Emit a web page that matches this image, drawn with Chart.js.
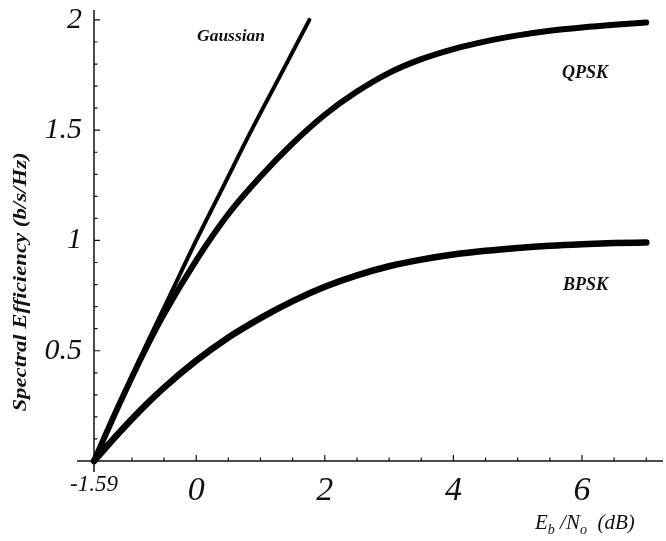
<!DOCTYPE html>
<html>
<head>
<meta charset="utf-8">
<script src="https://cdn.jsdelivr.net/npm/chart.js@4.4.1/dist/chart.umd.min.js"></script>
<style>
html,body{margin:0;padding:0;background:#fff;}
#wrap{position:relative;width:666px;height:541px;}
</style>
</head>
<body>
<div id="wrap"><canvas id="c" width="666" height="541"></canvas></div>
<script>
// ---- data ----
const gaussX = [-1.59, -1.21, -0.82, -0.41, 0, 0.43, 0.86, 1.31, 1.76];
const gaussY = [0, 0.25, 0.5, 0.75, 1, 1.25, 1.5, 1.75, 2];
const ebnoX  = [-1.59, -1.2, -0.8, -0.5, 0, 0.5, 1, 1.5, 2, 2.5, 3, 3.5, 4, 4.5, 5, 5.5, 6, 6.5, 7];
const qpskY  = [0, 0.255, 0.5, 0.667, 0.91, 1.12, 1.29, 1.44, 1.57, 1.675, 1.76, 1.822, 1.868, 1.903, 1.93, 1.951, 1.966, 1.978, 1.988];
const bpskY  = [0, 0.128, 0.25, 0.333, 0.455, 0.56, 0.648, 0.725, 0.79, 0.842, 0.883, 0.913, 0.936, 0.953, 0.966, 0.976, 0.983, 0.988, 0.991];

const xTickValues = [-1.59, -1, -0.5, 0, 0.5, 1, 1.5, 2, 2.5, 3, 3.5, 4, 4.5, 5, 5.5, 6, 6.5, 7];
const xLabeled    = [-1.59, 0, 2, 4, 6];
const yTickValues = [0.1,0.2,0.3,0.4,0.5,0.6,0.7,0.8,0.9,1,1.1,1.2,1.3,1.4,1.5,1.6,1.7,1.8,1.9,2];
const yLabeled    = [0.5, 1, 1.5, 2];
const seriesNames = ['Gaussian', 'QPSK', 'BPSK'];
const yTitle = 'Spectral Efficiency (b/s/Hz)';

const near = (a, b) => Math.abs(a - b) < 1e-6;
const isIn = (arr, v) => arr.some(a => near(a, v));
const pts = (xs, ys) => xs.map((x, i) => ({x, y: ys[i]}));

const SERIF = '"Liberation Serif", "DejaVu Serif", serif';

const axesPlugin = {
  id: 'axesPlugin',
  beforeDatasetsDraw(chart) {
    const {ctx, scales: {x, y}} = chart;
    const x0 = x.getPixelForValue(-1.59);
    const y0 = y.getPixelForValue(0);
    ctx.save();
    ctx.strokeStyle = '#111';
    ctx.lineWidth = 1.5;
    ctx.beginPath();
    ctx.moveTo(x0 - 17, y0); ctx.lineTo(x.right, y0);
    ctx.moveTo(x0, chart.chartArea.top); ctx.lineTo(x0, y0 + 11);
    ctx.stroke();
    ctx.lineWidth = 1.2;
    ctx.beginPath();
    xTickValues.forEach(v => {
      if (near(v, -1.59)) return;
      const px = x.getPixelForValue(v);
      const len = isIn(xLabeled, v) ? 6 : 3.5;
      ctx.moveTo(px, y0); ctx.lineTo(px, y0 - len);
    });
    yTickValues.forEach(v => {
      const py = y.getPixelForValue(v);
      const len = isIn(yLabeled, v) ? 6 : 3.5;
      ctx.moveTo(x0, py); ctx.lineTo(x0 + len, py);
    });
    ctx.stroke();
    ctx.restore();
  },
  afterDraw(chart) {
    const {ctx} = chart;
    ctx.save();
    ctx.fillStyle = '#111';
    // series labels
    ctx.font = 'italic bold 17.5px ' + SERIF;
    ctx.textBaseline = 'alphabetic';
    ctx.textAlign = 'left';
    ctx.fillText(seriesNames[0], 197, 41);
    ctx.font = 'italic bold 18px ' + SERIF;
    ctx.fillText(seriesNames[1], 562, 78);
    ctx.fillText(seriesNames[2], 563, 290);
    // y title
    ctx.save();
    ctx.translate(26, 282);
    ctx.rotate(-Math.PI / 2);
    ctx.scale(1.2, 1);
    ctx.textAlign = 'center';
    ctx.font = 'italic bold 19px ' + SERIF;
    ctx.fillText(yTitle, 0, 0);
    ctx.restore();
    // x title  E_b / N_o  (dB)
    let cx = 535;
    const base = 529;
    ctx.textAlign = 'left';
    const big = 'italic 21px ' + SERIF, small = 'italic 14px ' + SERIF;
    const parts = [['E', big, 0], ['b', small, 5], [' /N', big, 0], ['o', small, 5], ['  (dB)', big, 0]];
    parts.forEach(([t, f, dy]) => {
      ctx.font = f;
      ctx.fillText(t, cx, base + dy);
      cx += ctx.measureText(t).width;
    });
    ctx.restore();
  }
};

const commonLine = {
  borderColor: '#000',
  pointRadius: 0,
  fill: false,
  showLine: true,
  cubicInterpolationMode: 'monotone',
  borderCapStyle: 'round',
  borderJoinStyle: 'round',
  clip: false
};

new Chart(document.getElementById('c'), {
  type: 'scatter',
  data: {
    datasets: [
      {...commonLine, label: seriesNames[0], data: pts(gaussX, gaussY), borderWidth: 4},
      {...commonLine, label: seriesNames[1], data: pts(ebnoX, qpskY), borderWidth: 6},
      {...commonLine, label: seriesNames[2], data: pts(ebnoX, bpskY), borderWidth: 6.5}
    ]
  },
  options: {
    responsive: false,
    animation: false,
    layout: {padding: {left: 0, top: 10, right: 3, bottom: 0}},
    plugins: {legend: {display: false}, tooltip: {enabled: false}},
    scales: {
      x: {
        type: 'linear',
        min: -1.59,
        max: 7.26,
        grid: {display: false, drawTicks: false},
        border: {display: false},
        afterBuildTicks: s => { s.ticks = xTickValues.map(v => ({value: v})); },
        afterFit: s => { s.height = 80; s.paddingLeft = 0; s.paddingRight = 0; },
        ticks: {
          autoSkip: false,
          maxRotation: 0,
          padding: 10,
          color: '#111',
          callback: v => isIn(xLabeled, v) ? (near(v, -1.59) ? '-1.59' : String(v)) : '',
          font: ctx => (ctx.tick && near(ctx.tick.value, -1.59))
            ? {family: SERIF, size: 23, style: 'italic'}
            : {family: SERIF, size: 34, style: 'italic'}
        }
      },
      y: {
        type: 'linear',
        min: 0,
        max: 2.045,
        grid: {display: false, drawTicks: false},
        border: {display: false},
        afterBuildTicks: s => { s.ticks = yTickValues.map(v => ({value: v})); },
        afterFit: s => { s.width = 94; s.paddingTop = 0; s.paddingBottom = 0; },
        ticks: {
          autoSkip: false,
          padding: 12,
          color: '#111',
          callback: v => isIn(yLabeled, v) ? String(v) : '',
          font: {family: SERIF, size: 30, style: 'italic'}
        }
      }
    }
  },
  plugins: [axesPlugin]
});
</script>
</body>
</html>
